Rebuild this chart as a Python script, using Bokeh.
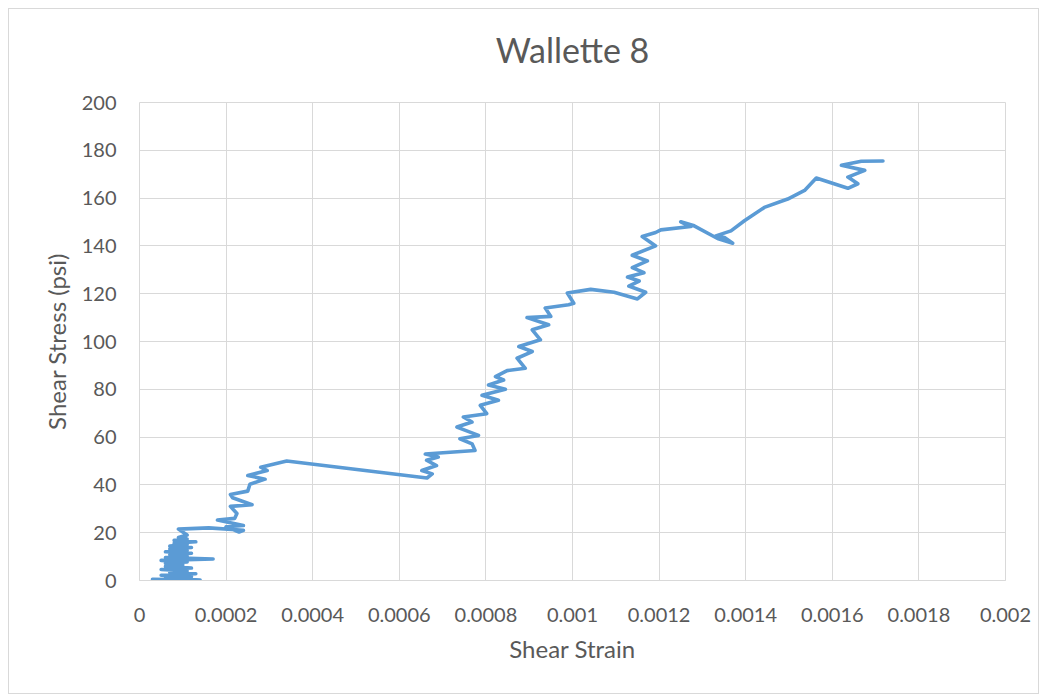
from bokeh.plotting import figure
from bokeh.models import Range1d, FixedTicker, CustomJSTickFormatter, Title
from bokeh.embed import file_html
from bokeh.resources import INLINE

title_text = "Wallette 8"
x_label = "Shear Strain"
y_label = "Shear Stress (psi)"

x_ticks = [0, 0.0002, 0.0004, 0.0006, 0.0008, 0.001, 0.0012, 0.0014, 0.0016, 0.0018, 0.002]
y_ticks = [0, 20, 40, 60, 80, 100, 120, 140, 160, 180, 200]

# shear strain (x 1e-4)
strain_e4 = [
    0.3, 1.4, 0.6, 1.2, 0.5, 1.3, 0.7, 1.1, 0.5, 1.2, 0.6, 1.0, 0.6, 1.1, 0.5, 1.7, 0.6, 1.1, 0.7, 1.2,
    0.6, 1.1, 0.7, 1.2, 0.7, 1.1, 0.8, 1.3, 0.8, 1.1, 0.9, 1.1,
    0.9, 1.6, 2.4, 2.3, 2.0, 2.4, 1.8, 2.2, 2.25, 2.1, 2.6, 2.15, 2.1, 2.5, 2.55, 2.9, 2.5, 2.95, 2.8, 3.4,
    6.64, 6.76, 6.52, 6.86, 6.63, 6.9, 6.6, 7.75,
    7.68, 7.4, 7.83, 7.33, 7.68, 7.48, 8.02, 7.87, 8.29, 7.91, 8.45, 8.06, 8.41, 8.22, 8.49, 8.91,
    8.72, 9.07, 8.76, 9.26, 9.07, 9.45, 8.95, 9.5, 9.37, 9.91, 10.03, 9.88, 10.42, 10.96, 11.5, 11.69,
    11.3, 11.54, 11.27, 11.65, 11.38, 11.73, 11.38, 11.92, 11.61, 11.92, 12.04, 12.73, 12.5, 12.81,
    13.35, 13.7, 13.51, 13.31, 13.66, 13.97, 14.43, 14.97, 15.36, 15.63, 16.36, 16.59, 16.36, 16.75,
    16.21, 16.67, 17.17,
]
# shear stress (psi)
stress = [
    0.5, 0.2, 1.0, 1.6, 2.2, 2.8, 3.4, 4.0, 4.6, 5.2, 5.9, 6.5, 7.2, 7.8, 8.4, 9.0, 9.6, 10.2, 10.8, 11.4,
    12.0, 12.6, 13.2, 13.8, 14.4, 15.0, 15.6, 16.2, 16.8, 17.4, 18.0, 19.0,
    21.5, 22, 21, 20.3, 22.5, 23, 25.3, 26, 28, 31, 31.7, 34.6, 36, 37.4, 40.3, 42.4, 43.9, 46, 47.4, 50,
    42.9, 44.6, 46, 48.1, 50.3, 51.7, 52.9, 54.4,
    57.2, 59.3, 60.7, 64.2, 66.3, 68.4, 69.8, 73.3, 75.4, 77.5, 80, 81.8, 83.9, 85.3, 87.8, 88.8,
    93, 95.8, 97.9, 100.7, 104.9, 107, 110, 110.5, 114, 115.4, 116, 120.3, 121.8, 120.6, 117.8, 120.6,
    123.2, 125.3, 127, 128.8, 130.9, 133.7, 136.1, 140, 143.9, 145.6, 146.7, 148.1, 150.1, 148.4,
    143.1, 141.1, 143.5, 144.2, 146.3, 150.5, 156.1, 159.6, 163.2, 168.4, 164.1, 166, 168.8, 171.6,
    173.7, 175.4, 175.5,
]
strain = [v * 1e-4 for v in strain_e4]

FONT = "Lato"
GRAY = "#595959"
GRID = "#d9d9d9"

p = figure(width=1031, height=686, output_backend="svg", toolbar_location=None,
           x_range=Range1d(0, 0.002), y_range=Range1d(0, 200),
           min_border_left=130, min_border_right=35, min_border_top=20, min_border_bottom=115)
p.styles = {"border": "1px solid #d9d9d9", "margin-left": "8px", "margin-top": "8px"}

spacer = Title(text=" ", text_font_size="2px", standoff=12)
main_title = Title(text=title_text, align="center", text_font=FONT, text_font_size="34px",
                   text_font_style="normal", text_color=GRAY, standoff=34)
p.title = None
p.above = [spacer, main_title]

p.outline_line_color = GRID

p.xaxis.ticker = FixedTicker(ticks=x_ticks)
p.yaxis.ticker = FixedTicker(ticks=y_ticks)
p.xaxis.formatter = CustomJSTickFormatter(code="return String(Number(tick.toFixed(6)));")
for ax in (p.xaxis, p.yaxis):
    ax.major_tick_line_color = None
    ax.minor_tick_line_color = None
    ax.major_label_text_font = FONT
    ax.major_label_text_font_size = "20px"
    ax.major_label_text_color = GRAY
    ax.axis_label_text_font = FONT
    ax.axis_label_text_font_size = "24px"
    ax.axis_label_text_font_style = "normal"
    ax.axis_label_text_color = GRAY
p.xaxis.axis_line_color = GRID
p.yaxis.axis_line_color = None
p.xaxis.major_label_standoff = 21
p.yaxis.major_label_standoff = 17
p.xaxis.axis_label = x_label
p.yaxis.axis_label = y_label
p.xaxis.axis_label_standoff = 9
p.yaxis.axis_label_standoff = 8

p.xgrid.grid_line_color = GRID
p.ygrid.grid_line_color = GRID
p.xgrid.ticker = FixedTicker(ticks=x_ticks)
p.ygrid.ticker = FixedTicker(ticks=y_ticks)

p.line(strain, stress, line_color="#5B9BD5", line_width=3.6, line_join="round", line_cap="round")

open("out.html", "w").write(file_html(p, INLINE))
